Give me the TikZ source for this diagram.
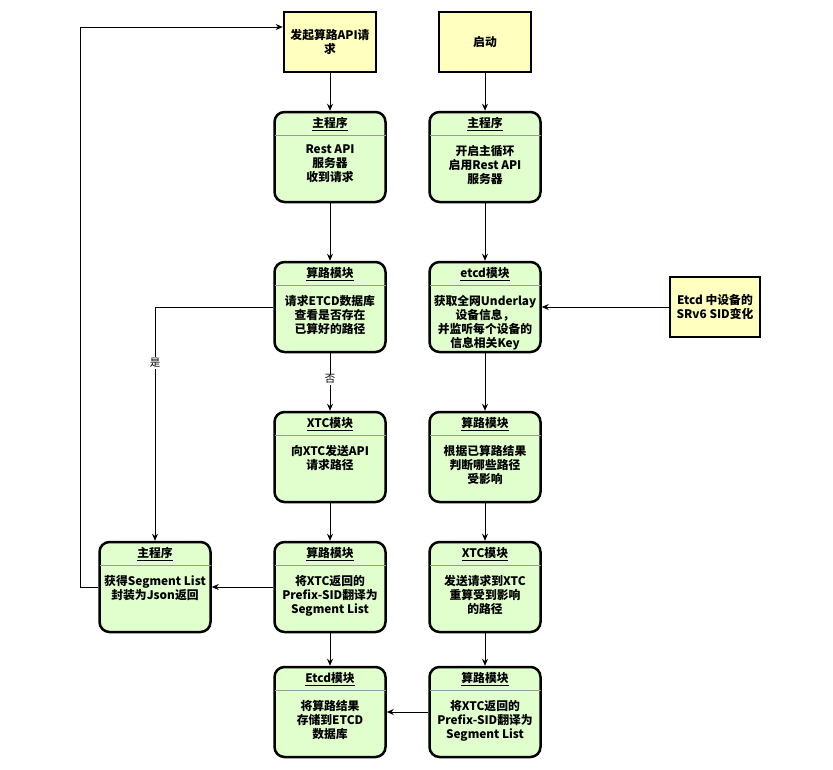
\documentclass[tikz,border=0pt]{standalone}
\usepackage{fontspec}
\setmainfont{Noto Sans CJK SC}
\usetikzlibrary{arrows.meta,positioning}

\definecolor{startyellow}{RGB}{255,255,192}
\definecolor{modgreen}{RGB}{225,255,204}

\tikzset{
    txt/.style={font=\fontsize{11.8}{14}\selectfont\bfseries, align=center},
    startbox/.style={txt, draw, line width=2.5pt, fill=startyellow, minimum width=92pt, minimum height=60pt, inner sep=2pt},
    modbox/.style={draw, line width=2.5pt, fill=modgreen, rounded corners=10pt, minimum width=111pt, minimum height=90pt},
    flow/.style={-{Stealth[length=7pt,width=6pt]}, line width=0.8pt},
    lbl/.style={font=\fontsize{10.5}{12}\selectfont, fill=white, inner sep=1pt}
}

% module box: name, position, title, body
\newcommand{\modulebox}[4]{%
    \node[modbox] (#1) at (#2) {};
    \draw[gray!80, line width=0.8pt] ([xshift=1.25pt,yshift=-25pt]#1.north west) -- ([xshift=-1.25pt,yshift=-25pt]#1.north east);
    \node[txt] (#1-title) at ([yshift=-13pt]#1.north) {\underline{#3}};
    \node[txt, anchor=north, inner sep=0pt] (#1-body) at ([yshift=-34pt]#1.north) {#4};
}

\begin{document}
\begin{tikzpicture}[x=1pt, y=-1pt]
    \useasboundingbox (0,0) rectangle (833,769);

    % Start boxes
    \node[startbox] (req) at (330,42) {发起算路API请\\求};
    \node[startbox] (boot) at (485,42) {启动};
    \node[startbox, minimum width=90pt] (chg) at (715,307) {Etcd 中设备的\\SRv6 SID变化};

    % Request path
    \modulebox{m1}{330,157}{主程序}{Rest API\\服务器\\收到请求}
    \modulebox{m2}{330,307}{算路模块}{请求ETCD数据库\\查看是否存在\\已算好的路径}
    \modulebox{m3}{330,457}{XTC模块}{向XTC发送API\\请求路径}
    \modulebox{m4}{330,587}{算路模块}{将XTC返回的\\Prefix-SID翻译为\\Segment List}
    \modulebox{m5}{330,712}{Etcd模块}{将算路结果\\存储到ETCD\\数据库}
    \modulebox{back}{155,587}{主程序}{获得Segment List\\封装为Json返回}

    % Startup path
    \modulebox{s1}{485,157}{主程序}{开启主循环\\启用Rest API\\服务器}
    \modulebox{s2}{485,307}{etcd模块}{获取全网Underlay\\设备信息，\\并监听每个设备的\\信息相关Key}
    \modulebox{s3}{485,457}{算路模块}{根据已算路结果\\判断哪些路径\\受影响}
    \modulebox{s4}{485,587}{XTC模块}{发送请求到XTC\\重算受到影响\\的路径}
    \modulebox{s5}{485,712}{算路模块}{将XTC返回的\\Prefix-SID翻译为\\Segment List}

    % Arrows
    \draw[flow] (req) -- (m1);
    \draw[flow] (m1) -- (m2);
    \draw[flow] (m2) -- node[lbl, pos=0.45] {否} (m3);
    \draw[flow] (m3) -- (m4);
    \draw[flow] (m4) -- (m5);
    \draw[flow] (m2.west) -| node[lbl, pos=0.62] {是} (back.north);
    \draw[flow] (m4.west) -- (back.east);
    \draw[flow] (back.west) -- ++(-18,0) |- ([yshift=15pt]req.west);

    \draw[flow] (boot) -- (s1);
    \draw[flow] (s1) -- (s2);
    \draw[flow] (s2) -- (s3);
    \draw[flow] (s3) -- (s4);
    \draw[flow] (s4) -- (s5);
    \draw[flow] (chg.west) -- (s2.east);
    \draw[flow] (s5.west) -- (m5.east);
\end{tikzpicture}
\end{document}
